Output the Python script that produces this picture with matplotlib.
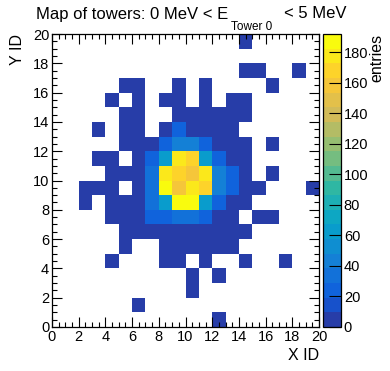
import numpy as np
import matplotlib
matplotlib.use("Agg")
import matplotlib.pyplot as plt
from matplotlib.colors import ListedColormap, BoundaryNorm, LinearSegmentedColormap
from matplotlib.ticker import MultipleLocator

plt.rcParams['font.family'] = ['Liberation Sans', 'DejaVu Sans']
plt.rcParams['mathtext.fontset'] = 'custom'
plt.rcParams['mathtext.rm'] = 'Liberation Sans'

# tower hit counts, rows from Y ID 19 (top) down to Y ID 0, columns X ID 0..19
counts = [
    [0, 0, 0, 0, 0, 0, 0, 0, 0, 0, 0, 0, 0, 0, 4, 0, 0, 0, 0, 0],    # 19
    [0, 0, 0, 0, 0, 0, 0, 0, 0, 0, 0, 0, 0, 0, 0, 0, 0, 0, 0, 0],    # 18
    [0, 0, 0, 0, 0, 0, 0, 0, 0, 0, 0, 0, 0, 0, 3, 2, 0, 0, 3, 0],    # 17
    [0, 0, 0, 0, 0, 3, 4, 0, 0, 5, 0, 4, 0, 0, 0, 0, 2, 0, 0, 0],    # 16
    [0, 0, 0, 0, 3, 0, 6, 0, 5, 7, 0, 5, 0, 4, 3, 0, 0, 0, 0, 0],    # 15
    [0, 0, 0, 0, 0, 4, 6, 0, 0, 8, 7, 8, 6, 5, 3, 0, 0, 0, 0, 0],    # 14
    [0, 0, 0, 3, 0, 5, 7, 0, 8, 20, 9, 8, 7, 6, 0, 0, 0, 0, 0, 0],   # 13
    [0, 0, 0, 0, 0, 5, 8, 9, 24, 40, 41, 24, 9, 7, 4, 0, 3, 0, 0, 0],  # 12
    [0, 0, 0, 4, 3, 0, 8, 22, 62, 178, 168, 63, 23, 8, 5, 0, 0, 0, 0, 0],  # 11
    [0, 0, 0, 0, 5, 6, 9, 36, 174, 172, 158, 176, 40, 24, 6, 0, 3, 0, 0, 0],  # 10
    [0, 0, 3, 4, 5, 0, 8, 38, 188, 157, 176, 166, 42, 25, 5, 3, 0, 0, 0, 2],  # 9
    [0, 0, 3, 0, 6, 7, 9, 32, 63, 192, 187, 65, 23, 8, 4, 0, 0, 0, 0, 0],  # 8
    [0, 0, 0, 0, 4, 6, 8, 22, 24, 33, 34, 23, 9, 6, 0, 3, 2, 0, 0, 0],  # 7
    [0, 0, 0, 0, 0, 5, 6, 8, 9, 9, 8, 8, 7, 5, 3, 0, 0, 0, 0, 0],    # 6
    [0, 0, 0, 0, 0, 4, 0, 0, 6, 7, 6, 5, 4, 3, 0, 0, 0, 0, 0, 0],    # 5
    [0, 0, 0, 0, 3, 0, 0, 0, 4, 5, 0, 3, 0, 0, 2, 0, 0, 2, 0, 0],    # 4
    [0, 0, 0, 0, 0, 0, 0, 0, 0, 0, 3, 0, 2, 0, 0, 0, 0, 0, 0, 0],    # 3
    [0, 0, 0, 0, 0, 0, 0, 0, 0, 0, 2, 0, 0, 0, 0, 0, 0, 0, 0, 0],    # 2
    [0, 0, 0, 0, 0, 0, 2, 0, 0, 0, 0, 0, 0, 0, 0, 0, 0, 0, 0, 0],    # 1
    [0, 0, 0, 0, 0, 0, 0, 0, 0, 0, 0, 0, 2, 0, 0, 0, 0, 0, 0, 0],    # 0
]
cbar_ticks = [0, 20, 40, 60, 80, 100, 120, 140, 160, 180]

# ROOT kBird palette
stops = [0.0, 0.125, 0.25, 0.375, 0.5, 0.625, 0.75, 0.875, 1.0]
red = [0.2082, 0.0592, 0.0780, 0.0232, 0.1802, 0.5301, 0.8186, 0.9956, 0.9764]
green = [0.1664, 0.3599, 0.5041, 0.6419, 0.7178, 0.7492, 0.7328, 0.7862, 0.9832]
blue = [0.5293, 0.8684, 0.8385, 0.7914, 0.6425, 0.4662, 0.3499, 0.1968, 0.0539]
bird = LinearSegmentedColormap.from_list(
    'bird', [(s, (r, g, b)) for s, r, g, b in zip(stops, red, green, blue)])

ndivz = 20
level_colors = [bird(int(0.01 + (k + 0.99) * 255 / ndivz) / 254) for k in range(ndivz)]
cmap = ListedColormap(level_colors)

z = np.array(counts[::-1], dtype=float)
zmax = z.max()
norm = BoundaryNorm(np.linspace(0, zmax, ndivz + 1), ndivz)
zm = np.ma.masked_where(z <= 0, z)

fig = plt.figure(figsize=(3.9, 3.71), dpi=100)
ax = fig.add_axes([52 / 390, 44 / 371, 267 / 390, 293 / 371])
edges = np.arange(21)
mesh = ax.pcolormesh(edges, edges, zm, cmap=cmap, norm=norm)
ax.set_xlim(0, 20)
ax.set_ylim(0, 20)

ax.xaxis.set_major_locator(MultipleLocator(2))
ax.xaxis.set_minor_locator(MultipleLocator(0.5))
ax.yaxis.set_major_locator(MultipleLocator(2))
ax.yaxis.set_minor_locator(MultipleLocator(0.5))
ax.tick_params(which='both', direction='in', top=True, right=True, labelsize=10.5, width=0.8)
ax.tick_params(which='major', length=7)
ax.tick_params(which='minor', length=3.5)
ax.tick_params(axis='x', pad=2)
ax.tick_params(axis='y', pad=2)
for s in ax.spines.values():
    s.set_linewidth(0.9)

fig.text(319 / 390, 1 - 355 / 371, 'X ID', ha='right', va='center', fontsize=11.5)
fig.text(18 / 390, 1 - 34 / 371, 'Y ID', ha='center', va='top', rotation=90, fontsize=11.5)

# title pieces, ROOT-style lowered subscript
fig.text(228 / 390, 1 - 14 / 371, 'Map of towers: 0 MeV < E',
         ha='right', va='center', fontsize=12)
fig.text(231 / 390, 1 - 27 / 371, 'Tower 0', ha='left', va='center', fontsize=8.5)
fig.text(284 / 390, 1 - 14 / 371, '< 5 MeV', ha='left', va='center', fontsize=12)

cax = fig.add_axes([323 / 390, 44 / 371, 18 / 390, 293 / 371])
cb = fig.colorbar(mesh, cax=cax, ticks=cbar_ticks)
cb.outline.set_linewidth(0.9)
cax.tick_params(direction='in', length=9, width=0.8, labelsize=10.5, pad=2)
cax.minorticks_off()
fig.text(377 / 390, 1 - 34 / 371, 'entries', ha='center', va='top', rotation=90, fontsize=11.5)

fig.savefig('out.png', dpi=100)
